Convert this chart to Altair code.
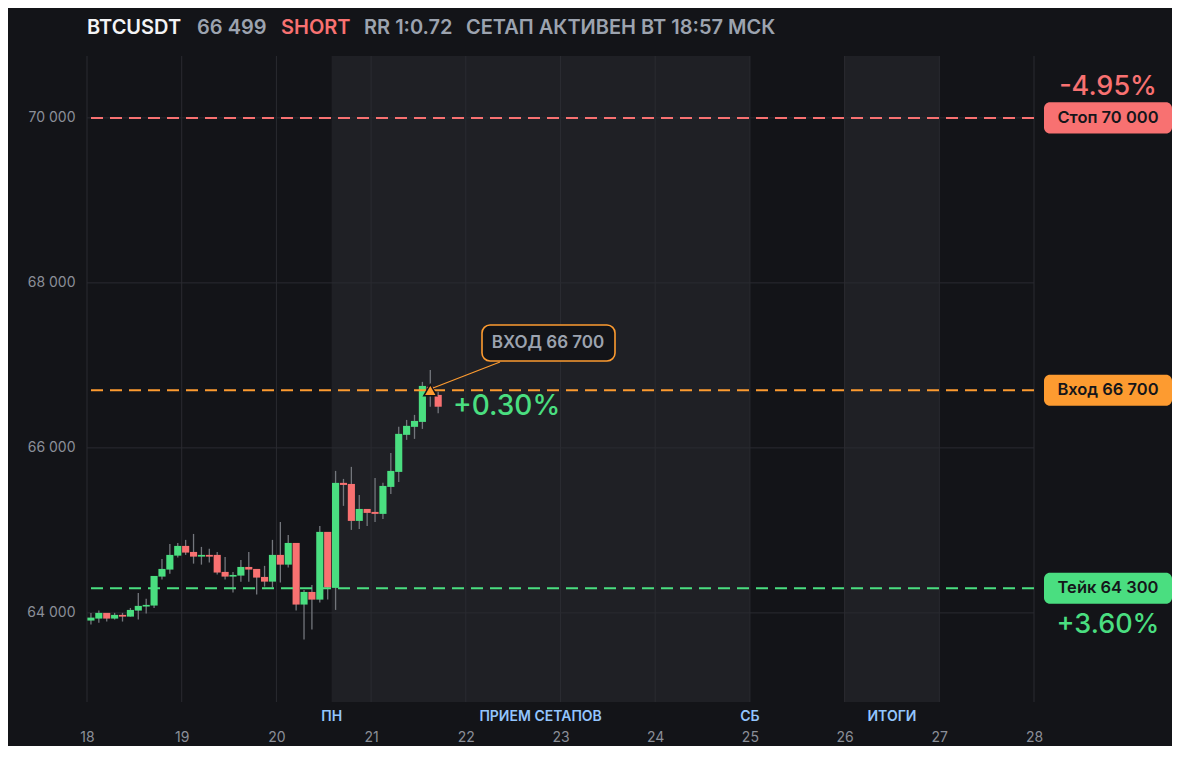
import altair as alt
import pandas as pd

# ---------------- data ----------------
# 2-hour candles starting on day 18 00:00
opens  = [63907, 63931, 64000, 63931, 63976, 63955, 64028, 64077, 64089, 64440,
          64525, 64694, 64812, 64739, 64682, 64703, 64703, 64497, 64440, 64452,
          64557, 64533, 64436, 64379, 64703, 64585, 64848, 64101, 64254, 64161,
          64982, 64303, 65576, 65563, 65115, 65260, 65224, 65200, 65527, 65709,
          66158, 66255, 66315, 66740, 66642]
highs  = [64000, 64028, 64000, 64000, 64000, 64060, 64242, 64170, 64448, 64654,
          64836, 64848, 64885, 64957, 64800, 64776, 64739, 64679, 64497, 64642,
          64739, 64533, 64570, 64885, 65103, 64945, 64848, 64279, 64339, 65054,
          64982, 65721, 65624, 65770, 65430, 65260, 65636, 65576, 65939, 66255,
          66339, 66400, 66800, 66945, 66680]
lows   = [63858, 63882, 63895, 63919, 63895, 63955, 63919, 63992, 64060, 64404,
          64476, 64670, 64703, 64597, 64585, 64610, 64464, 64404, 64246, 64379,
          64379, 64222, 64319, 64307, 64367, 64549, 64028, 63677, 63798, 64125,
          64161, 64036, 65297, 65006, 65018, 65054, 65103, 65139, 65442, 65588,
          66097, 66109, 66230, 66500, 66420]
closes = [63943, 64000, 63931, 63976, 63955, 64036, 64085, 64097, 64448, 64533,
          64703, 64812, 64731, 64682, 64703, 64682, 64489, 64440, 64460, 64557,
          64525, 64428, 64379, 64703, 64585, 64848, 64101, 64254, 64161, 64982,
          64307, 65576, 65551, 65115, 65260, 65212, 65200, 65539, 65721, 66170,
          66267, 66327, 66751, 66690, 66499]
first_day = 18
candle_hours = 2

zone_start = [20.5833, 26.0]
zone_end = [25.0, 27.0]
zone_labels = ["ПН", "ПРИЕМ СЕТАПОВ", "СБ", "ИТОГИ"]
zone_label_day = [20.5833, 22.79, 25.0, 26.5]

day_ticks = [18, 19, 20, 21, 22, 23, 24, 25, 26, 27, 28]
price_ticks = [64000, 66000, 68000, 70000]

level_names = ["Стоп 70 000", "Вход 66 700", "Тейк 64 300"]
level_values = [70000, 66700, 64300]
level_kind = ["stop", "entry", "take"]

entry_day = [21.625]
entry_price = [66700]

header_parts = ["BTCUSDT", "66 499", "SHORT", "RR 1:0.72", "СЕТАП АКТИВЕН ВТ 18:57 МСК"]

# ---------------- styling ----------------
BG = "#131418"
SHADE = "#1f2025"
GRID = "#2a2b31"
GREEN = "#4ade80"
RED = "#f87171"
ORANGE = "#fd9b30"
GRAY = "#9ca3af"
BLUE = "#93c5fd"
FONT = "Inter"
KIND_COLORS = {"stop": RED, "entry": ORANGE, "take": GREEN}

n = len(opens)
t = [first_day + i * candle_hours / 24 for i in range(n)]
candles = pd.DataFrame({
    "t0": [v + 0.004 for v in t],
    "t1": [v + candle_hours / 24 - 0.004 for v in t],
    "tm": [v + candle_hours / 48 for v in t],
    "open": opens, "high": highs, "low": lows, "close": closes,
})
up = candles[candles["close"] >= candles["open"]]
down = candles[candles["close"] < candles["open"]]

zones = pd.DataFrame({"s": zone_start, "e": zone_end})
zlab = pd.DataFrame({"d": zone_label_day, "txt": zone_labels})
days = pd.DataFrame({"d": day_ticks})
prices = pd.DataFrame({"p": price_ticks})
levels = pd.DataFrame({"name": level_names, "v": level_values, "kind": level_kind})
entry = pd.DataFrame({"d": entry_day, "p": entry_price})

xscale = alt.Scale(domain=[18, 28], nice=False, zero=False)
yscale = alt.Scale(domain=[62920, 70750], nice=False, zero=False)
xaxis = alt.Axis(values=day_ticks, title=None, grid=False, domain=False, ticks=False,
                 tickSize=0, labelPadding=28, labelColor="#8b8f98", labelFont=FONT,
                 labelFontSize=14, format="d", labelFlush=False, labelOverlap=False)
yaxis = alt.Axis(values=price_ticks, title=None, grid=False, domain=False, ticks=False,
                 tickSize=0, labelPadding=12, labelColor="#8b8f98", labelFont=FONT,
                 labelFontSize=14, labelFlush=False,
                 labelExpr="replace(format(datum.value, ','), ',', ' ')")


def X(f):
    return alt.X(f, type="quantitative", scale=xscale, axis=xaxis)


def Y(f):
    return alt.Y(f, type="quantitative", scale=yscale, axis=yaxis)


zone_layer = alt.Chart(zones).mark_rect(color=SHADE).encode(x=X("s"), x2="e")
vgrid = alt.Chart(days).mark_rule(color=GRID, strokeWidth=1).encode(x=X("d"))
hgrid = alt.Chart(prices).mark_rule(color=GRID, strokeWidth=1).encode(y=Y("p"))

wicks = alt.Chart(candles).mark_rule(color="#73767c", strokeWidth=1.3).encode(
    x=X("tm"), y=Y("low"), y2="high")
bodies_up = alt.Chart(up).mark_rect(color=GREEN).encode(
    x=X("t0"), x2="t1", y=Y("open"), y2="close")
bodies_down = alt.Chart(down).mark_rect(color=RED).encode(
    x=X("t0"), x2="t1", y=Y("open"), y2="close")

level_lines = []
boxes = []
for kind, col in KIND_COLORS.items():
    base = alt.Chart(levels).transform_filter(alt.datum.kind == kind)
    level_lines.append(base.mark_rule(strokeDash=[12, 7], strokeWidth=2, color=col).encode(y=Y("v")))
    boxes.append(base.transform_calculate(lo="datum.v - 188", hi="datum.v + 188")
                 .mark_rect(cornerRadius=6, color=col).encode(
                     x=alt.value(957), x2=alt.value(1085), y=Y("lo:Q"), y2="hi:Q"))

connector = alt.Chart(entry).mark_rule(color=ORANGE, strokeWidth=1.2).encode(
    x=alt.value(346), y=alt.value(332), x2=alt.value(413), y2=alt.value(306))
callout_box = alt.Chart(entry).mark_rect(
    fill=BG, stroke=ORANGE, strokeWidth=1.6, cornerRadius=8).encode(
    x=alt.value(395), x2=alt.value(528), y=alt.value(269), y2=alt.value(305))
callout_text = alt.Chart(entry).mark_text(
    font=FONT, fontSize=17, fontWeight=600, color=GRAY, baseline="middle", align="center").encode(
    x=alt.value(461), y=alt.value(287), text=alt.value("ВХОД 66 700"))
marker = alt.Chart(entry).mark_point(
    shape="triangle-up", size=170, filled=True, fill=ORANGE, stroke=BG, strokeWidth=1.5, opacity=1).encode(
    x=X("d"), y=Y("p"))
pnl = alt.Chart(entry).mark_text(
    font=FONT, fontSize=28, fontWeight=500, color=GREEN, align="left", baseline="middle").encode(
    x=alt.value(366), y=alt.value(351), text=alt.value("+0.30%"))

box_text = alt.Chart(levels).mark_text(
    font=FONT, fontSize=16.5, fontWeight=600, color="#15161a", align="center", baseline="middle").encode(
    x=alt.value(1021), y=Y("v"), text="name:N")

stop_pct = alt.Chart(entry).mark_text(
    font=FONT, fontSize=27, fontWeight=500, color=RED, align="center", baseline="middle").encode(
    x=alt.value(1021), y=alt.value(31), text=alt.value("-4.95%"))
take_pct = alt.Chart(entry).mark_text(
    font=FONT, fontSize=27, fontWeight=500, color=GREEN, align="center", baseline="middle").encode(
    x=alt.value(1021), y=alt.value(569), text=alt.value("+3.60%"))

zone_text = alt.Chart(zlab).mark_text(
    font=FONT, fontSize=14, fontWeight=600, color=BLUE, align="center", baseline="middle").encode(
    x=X("d"), y=alt.value(661), text="txt:N")

header_x = [0, 110, 194, 277, 379]
header_c = ["#f3f4f6", GRAY, RED, GRAY, GRAY]
header_layers = [
    alt.Chart(entry).mark_text(
        font=FONT, fontSize=20, fontWeight=600, color=c, align="left", baseline="middle").encode(
        x=alt.value(hx), y=alt.value(-28), text=alt.value(txt))
    for txt, hx, c in zip(header_parts, header_x, header_c)
]

chart = alt.layer(
    zone_layer, vgrid, hgrid, wicks, bodies_up, bodies_down, *level_lines,
    connector, callout_box, callout_text, marker, pnl,
    *boxes, box_text, stop_pct, take_pct, zone_text, *header_layers
).properties(
    width=947, height=646,
    padding={"left": 79, "top": 48, "right": 138, "bottom": 44},
    autosize=alt.AutoSizeParams(type="none"),
).configure(background=BG).configure_view(stroke=None)

chart.save("out.html", embed_options={"renderer": "svg", "actions": False})
